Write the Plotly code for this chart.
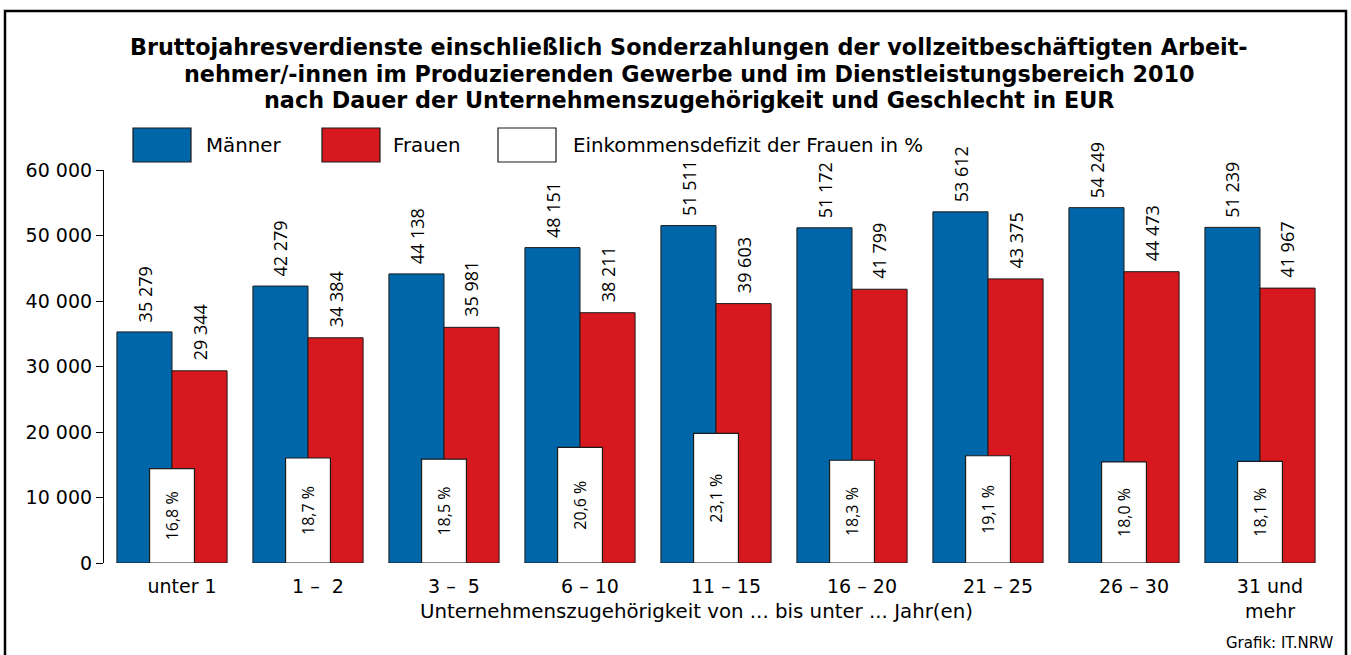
import plotly.graph_objects as go

categories = ["unter 1", "1 –  2", "3 –  5", "6 – 10", "11 – 15", "16 – 20", "21 – 25", "26 – 30", "31 und<br>mehr"]
maenner = [35279, 42279, 44138, 48151, 51511, 51172, 53612, 54249, 51239]
frauen = [29344, 34384, 35981, 38211, 39603, 41799, 43375, 44473, 41967]
defizit = [16.8, 18.7, 18.5, 20.6, 23.1, 18.3, 19.1, 18.0, 18.1]
y_ticks = [0, 10000, 20000, 30000, 40000, 50000, 60000]
y_ticktext = ["0", "10 000", "20 000", "30 000", "40 000", "50 000", "60 000"]
title_lines = [
    "Bruttojahresverdienste einschließlich Sonderzahlungen der vollzeitbeschäftigten Arbeit-",
    "nehmer/-innen im Produzierenden Gewerbe und im Dienstleistungsbereich 2010",
    "nach Dauer der Unternehmenszugehörigkeit und Geschlecht in EUR",
]

BLUE = "#0066AA"
RED = "#D7191F"
FONT = "DejaVu Sans"
FONT_ROT = "Open Sans"

def fmt(v):
    return f"{v:,}".replace(",", " ")

def fmt_pct(v):
    return f"{v:.1f} %".replace(".", ",")

W, H = 1351, 655
L, R, T, B = 104, 23, 170, 92
PW, PH = W - L - R, H - T - B

def px(x):
    return (x - L) / PW

def py(y):
    return (H - B - y) / PH

idx = list(range(len(categories)))

fig = go.Figure()
fig.add_trace(go.Bar(x=idx, y=maenner, name="Männer", marker=dict(color=BLUE, line=dict(color="#1a1a1a", width=1))))
fig.add_trace(go.Bar(x=idx, y=frauen, name="Frauen", marker=dict(color=RED, line=dict(color="#1a1a1a", width=1))))
fig.add_trace(go.Bar(x=idx, y=defizit, name="Einkommensdefizit der Frauen in %", xaxis="x2", yaxis="y2",
                     width=0.33, marker=dict(color="white", line=dict(color="#1a1a1a", width=1.2)),
                     text=[fmt_pct(v) for v in defizit], textposition="inside", insidetextanchor="middle",
                     textangle=-90, textfont=dict(family=FONT_ROT, size=16, color="black")))

annotations = []
half = 0.81 / 4
for i in idx:
    annotations.append(dict(x=i - half, y=maenner[i], xref="x", yref="y", text=fmt(maenner[i]), showarrow=False,
                            textangle=-90, yanchor="bottom", xanchor="center", yshift=8,
                            font=dict(family=FONT_ROT, size=18, color="black")))
    annotations.append(dict(x=i + half, y=frauen[i], xref="x", yref="y", text=fmt(frauen[i]), showarrow=False,
                            textangle=-90, yanchor="bottom", xanchor="center", yshift=8,
                            font=dict(family=FONT_ROT, size=18, color="black")))

# title lines
for line, ty in zip(title_lines, [47, 73.5, 100]):
    annotations.append(dict(x=px(689), y=py(ty), xref="paper", yref="paper", text=f"<b>{line}</b>", showarrow=False,
                            xanchor="center", yanchor="middle", font=dict(family=FONT, size=22.3, color="black")))

# legend (drawn manually)
shapes = []
legend_items = [(133, BLUE, "Männer", 204), (322, RED, "Frauen", 391), (498, "white", "Einkommensdefizit der Frauen in %", 571)]
for x0, col, label, tx in legend_items:
    shapes.append(dict(type="rect", xref="paper", yref="paper", x0=px(x0), x1=px(x0 + 58), y0=py(162), y1=py(128),
                       fillcolor=col, line=dict(color="#1a1a1a", width=1.2)))
    annotations.append(dict(x=px(tx), y=py(146), xref="paper", yref="paper", text=label, showarrow=False,
                            xanchor="left", yanchor="middle", font=dict(family=FONT, size=19.8, color="black")))

# frame
shapes.append(dict(type="rect", xref="paper", yref="paper", x0=px(5), x1=px(1346), y0=py(720), y1=py(11),
                   line=dict(color="black", width=2.5), fillcolor="rgba(0,0,0,0)"))

annotations.append(dict(x=px(696), y=py(611), xref="paper", yref="paper",
                        text="Unternehmenszugehörigkeit von ... bis unter ... Jahr(en)", showarrow=False,
                        xanchor="center", yanchor="middle", font=dict(family=FONT, size=19.8, color="black")))
annotations.append(dict(x=px(1336), y=py(643), xref="paper", yref="paper", text="Grafik: IT.NRW", showarrow=False,
                        xanchor="right", yanchor="middle", font=dict(family=FONT, size=15, color="black")))

fig.update_layout(
    width=W, height=H,
    margin=dict(l=L, r=R, t=T, b=B),
    paper_bgcolor="white", plot_bgcolor="white",
    barmode="group", bargap=0.19, bargroupgap=0,
    showlegend=False,
    xaxis=dict(range=[-0.5, 8.5], tickvals=idx, ticktext=categories, showgrid=False, zeroline=False,
               showline=False, ticks="", ticklabelstandoff=10, ticklabelshift=10,
               tickfont=dict(family=FONT, size=19, color="black")),
    yaxis=dict(range=[0, 60000], tickvals=y_ticks, ticktext=y_ticktext, showgrid=False, zeroline=False,
               showline=True, linecolor="black", linewidth=1.2, ticks="outside", ticklen=7, tickcolor="black",
               tickfont=dict(family=FONT, size=19, color="black")),
    xaxis2=dict(overlaying="x", range=[-0.5, 8.5], visible=False),
    yaxis2=dict(overlaying="y", range=[0, 70], visible=False),
    shapes=shapes,
    annotations=annotations,
)

fig.write_html("out.html", config={"displayModeBar": False},
               post_script="document.body.style.margin='0';document.body.style.overflow='hidden';")
